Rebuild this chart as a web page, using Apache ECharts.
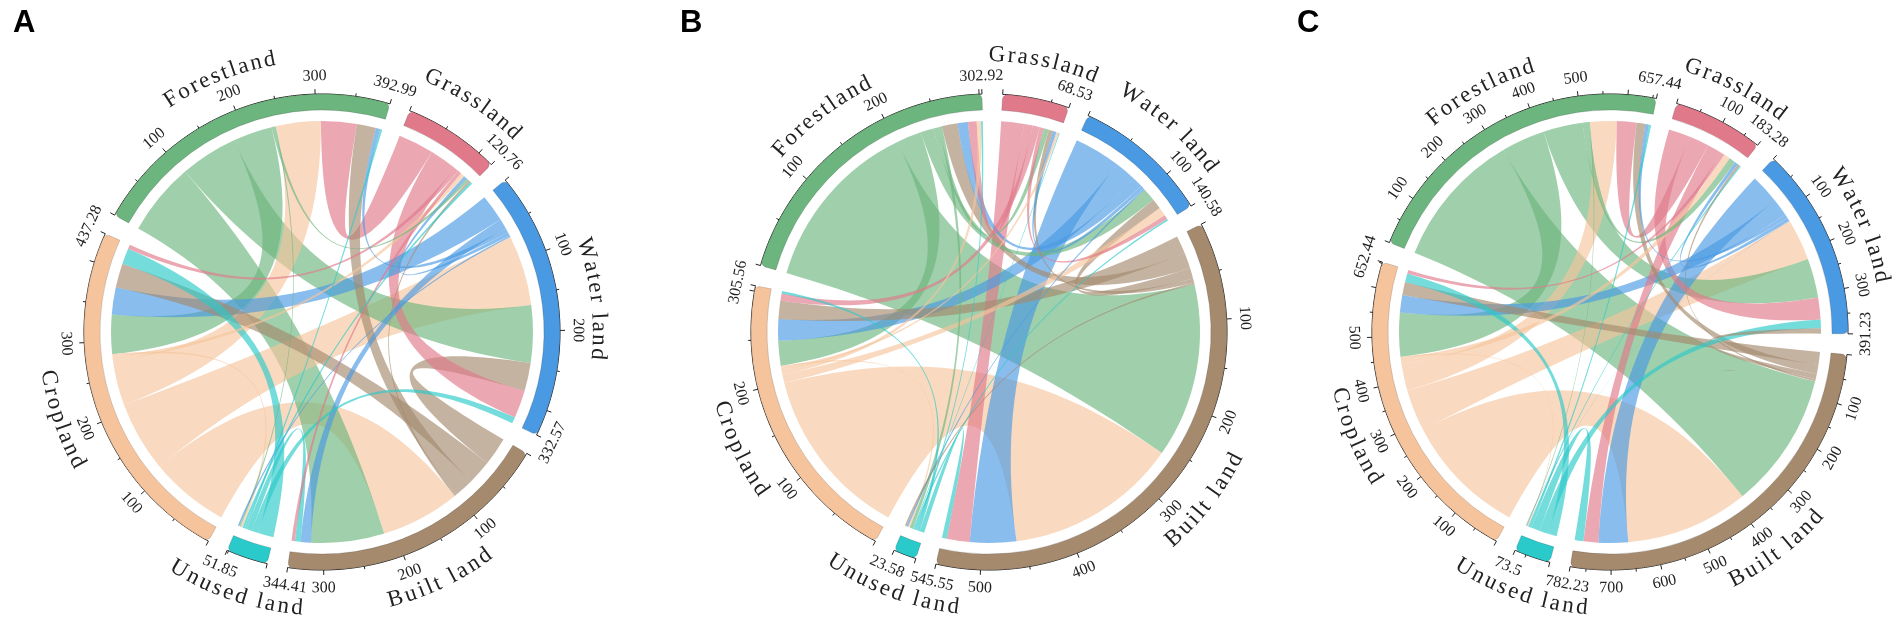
<!DOCTYPE html>
<html>
<head>
<meta charset="utf-8">
<script src="https://cdn.jsdelivr.net/npm/echarts@6.0.0/dist/echarts.min.js"></script>
<style>
  html, body { margin: 0; padding: 0; background: #fff; }
  #main { width: 1901px; height: 628px; }
</style>
</head>
<body>
<div id="main"></div>
<script>
// land types, clockwise order round each circle
const landTypes = ['Cropland', 'Forestland', 'Grassland', 'Water land', 'Built land', 'Unused land'];
const landColors = ['#F6C49C', '#6DB57E', '#E07A8B', '#4A99E3', '#A58A6E', '#2BCACA'];

// transfer flows, rows = from, columns = to (same order as landTypes)
const flowsA = [
    [0, 63, 6, 99, 111.28, 3],
    [55, 0, 4, 80.52, 102.47, 2],
    [6, 50, 0, 39, 4.76, 0],
    [38, 6, 5, 0, 14.57, 2],
    [34, 27, 3, 39.48, 0, 0],
    [22, 3, 3, 9, 7.85, 0]
];
const flowsB = [
    [0, 5, 3, 10, 199.56, 2],
    [28.81, 0, 6, 15, 201.92, 4],
    [8, 10, 0, 5, 26.53, 0],
    [25, 12, 4, 0, 53.58, 2],
    [21.19, 18.19, 5, 12, 0, 2],
    [3, 2, 1, 2, 5.58, 0]
];
const flowsC = [
    [0, 60.83, 15, 95, 281.61, 2],
    [100, 0, 15, 90, 311.61, 2],
    [8, 45, 0, 50, 34.28, 0],
    [40, 8, 8, 0, 67.23, 1],
    [30, 20, 5, 12, 0, 0.5],
    [20, 5, 3, 20, 20, 0]
];

// sector totals (end labels)
const totalsA = [437.28, 392.99, 120.76, 332.57, 344.41, 51.85];
const totalsB = [305.56, 302.92, 68.53, 140.58, 545.55, 23.58];
const totalsC = [652.44, 657.44, 183.28, 391.23, 782.23, 73.5];

// labelled ticks per sector
const tickLabelsA = [[100, 200, 300], [100, 200, 300], [], [100, 200], [100, 200, 300], []];
const tickLabelsB = [[100, 200], [100, 200], [], [100], [100, 200, 300, 400, 500], []];
const tickLabelsC = [[100, 200, 300, 400, 500], [100, 200, 300, 400, 500], [100], [100, 200, 300],
    [100, 200, 300, 400, 500, 600, 700], []];
const tickStep = 50;

// geometry
const CY = 332;
const AXIS_R = 238;
const BAND_R0 = 222;
const LINK_R = 212;
const LABEL_R = 256;
const NAME_R = 277;
const PAD = 5;
const FIRST_START = 208.5;   // compass degrees where Cropland begins
const FONT = 'Liberation Serif';
const NAME_SIZE = 23;
const NAME_SPACING = 2.4;    // extra px between letters of the curved names

const panels = [
    {letter: 'A', letterX: 8, cx: 322, flows: flowsA, totals: totalsA, ticks: tickLabelsA},
    {letter: 'B', letterX: 675, cx: 989, flows: flowsB, totals: totalsB, ticks: tickLabelsB},
    {letter: 'C', letterX: 1292, cx: 1610, flows: flowsC, totals: totalsC, ticks: tickLabelsC}
];

const chart = echarts.init(document.getElementById('main'));

const sumOf = arr => arr.reduce((a, b) => a + b, 0);

const measureCtx = document.createElement('canvas').getContext('2d');
measureCtx.font = NAME_SIZE + 'px "' + FONT + '"';
const charWidth = ch => measureCtx.measureText(ch).width;

// every sector is split into an outgoing part and an incoming part (as circlize does),
// with invisible spacer nodes standing in for the gaps
const ribbonNodes = p => {
    const gapValue = PAD * sumOf(p.totals) / (360 - PAD * p.totals.length);
    const nodes = [];
    landTypes.forEach((name, i) => {
        const hidden = {color: landColors[i], opacity: 0};
        nodes.push({name: name + ' out', value: sumOf(p.flows[i]), itemStyle: hidden});
        nodes.push({name: name + ' in', value: sumOf(p.flows.map(r => r[i])), itemStyle: hidden});
        nodes.push({name: 'gap ' + i, value: gapValue, itemStyle: {opacity: 0}});
    });
    return nodes;
};

// larger flows sit first inside each sector part
const ribbonLinks = flows => {
    const links = [];
    flows.forEach((row, s) => row.forEach((v, t) => {
        if (v > 0) {
            links.push({source: landTypes[s] + ' out', target: landTypes[t] + ' in', value: v});
        }
    }));
    return links.sort((a, b) => b.value - a.value);
};

const plainLinks = flows => {
    const links = [];
    flows.forEach((row, i) => row.forEach((v, j) => {
        if (v > 0) {
            links.push({source: landTypes[i], target: landTypes[j], value: v});
        }
    }));
    return links;
};

const sectorLayout = totals => {
    const unit = (360 - PAD * totals.length) / sumOf(totals);
    let a = FIRST_START;
    return totals.map(t => {
        const s = a;
        a = s + t * unit + PAD;
        return {start: s, end: s + t * unit, unit};
    });
};

const isFlipped = deg => {
    const d = ((deg % 360) + 360) % 360;
    return d > 90 && d < 270;
};
const rotOf = (deg, flip) => -(flip ? deg - 180 : deg) * Math.PI / 180;

const renderSector = (p, layout) => (params, api) => {
    const i = params.dataIndex;
    const L = layout[i];
    const total = p.totals[i];
    const ang = v => L.start + v * L.unit;
    const children = [];

    const pts = [];
    for (let d = L.start; d < L.end; d += 0.5) {
        pts.push(api.coord([AXIS_R, d]));
    }
    pts.push(api.coord([AXIS_R, L.end]));
    children.push({type: 'polyline', shape: {points: pts}, style: {stroke: '#222', lineWidth: 1, fill: null}});

    const tick = (v, len) => {
        const a = api.coord([AXIS_R, ang(v)]);
        const b = api.coord([AXIS_R + len, ang(v)]);
        children.push({type: 'line', shape: {x1: a[0], y1: a[1], x2: b[0], y2: b[1]},
            style: {stroke: '#222', lineWidth: 1}});
    };
    for (let v = 0; v <= total; v += tickStep) {
        tick(v, v % 100 === 0 ? 5 : 3);
    }
    tick(total, 5);

    const label = (v, text) => {
        const a = ang(v);
        const pos = api.coord([LABEL_R, a]);
        children.push({type: 'text', x: pos[0], y: pos[1], rotation: rotOf(a, isFlipped(a)),
            style: {text, fill: '#222', fontSize: 16, fontFamily: FONT, align: 'center', verticalAlign: 'middle'}});
    };
    p.ticks[i].forEach(v => label(v, String(v)));
    label(total, String(total));

    // sector name bent along the circle, one letter at a time
    const name = landTypes[i];
    const mid = (L.start + L.end) / 2;
    const flip = isFlipped(mid);
    const widths = name.split('').map(charWidth);
    const full = sumOf(widths) + NAME_SPACING * (name.length - 1);
    let run = -full / 2;
    for (let k = 0; k < name.length; k++) {
        const centre = run + widths[k] / 2;
        run += widths[k] + NAME_SPACING;
        const off = centre / NAME_R * 180 / Math.PI;
        const a = flip ? mid - off : mid + off;
        const pos = api.coord([NAME_R, a]);
        children.push({type: 'text', x: pos[0], y: pos[1], rotation: rotOf(a, flip),
            style: {text: name[k], fill: '#222', fontSize: NAME_SIZE, fontFamily: FONT,
                align: 'center', verticalAlign: 'middle'}});
    }
    return {type: 'group', children};
};

const polar = [];
const angleAxis = [];
const radiusAxis = [];
const series = [];
const title = [];

panels.forEach((p, pi) => {
    const layout = sectorLayout(p.totals);
    polar.push({center: [p.cx, CY], radius: 300});
    angleAxis.push({polarIndex: pi, type: 'value', min: 0, max: 360, startAngle: 90, clockwise: true, show: false});
    radiusAxis.push({polarIndex: pi, type: 'value', min: 0, max: 300, show: false});
    title.push({text: p.letter, left: p.letterX, top: 3,
        textStyle: {fontSize: 31, fontWeight: 'bold', color: '#000', fontFamily: 'Liberation Sans'}});

    // ribbons
    series.push({
        type: 'chord',
        center: [p.cx, CY],
        radius: [LINK_R - 1, LINK_R],
        startAngle: 90 - FIRST_START,
        clockwise: true,
        padAngle: 0,
        minAngle: 0,
        silent: true,
        label: {show: false},
        data: ribbonNodes(p),
        links: ribbonLinks(p.flows),
        lineStyle: {color: 'source', opacity: 0.65}
    });
    // sector bands
    series.push({
        type: 'chord',
        center: [p.cx, CY],
        radius: [BAND_R0, AXIS_R],
        startAngle: 90 - FIRST_START,
        clockwise: true,
        padAngle: PAD,
        minAngle: 0,
        silent: true,
        label: {show: false},
        data: landTypes.map((name, i) => ({name, value: p.totals[i],
            itemStyle: {color: landColors[i], borderColor: 'rgba(0,0,0,0.25)', borderWidth: 0.6}})),
        links: plainLinks(p.flows),
        lineStyle: {color: 'source', opacity: 0}
    });
    // axis, ticks and labels
    series.push({
        type: 'custom',
        coordinateSystem: 'polar',
        polarIndex: pi,
        silent: true,
        data: p.totals.map(() => [0, 0]),
        renderItem: renderSector(p, layout)
    });
});

chart.setOption({
    animation: false,
    title,
    polar,
    angleAxis,
    radiusAxis,
    series
});
</script>
</body>
</html>
